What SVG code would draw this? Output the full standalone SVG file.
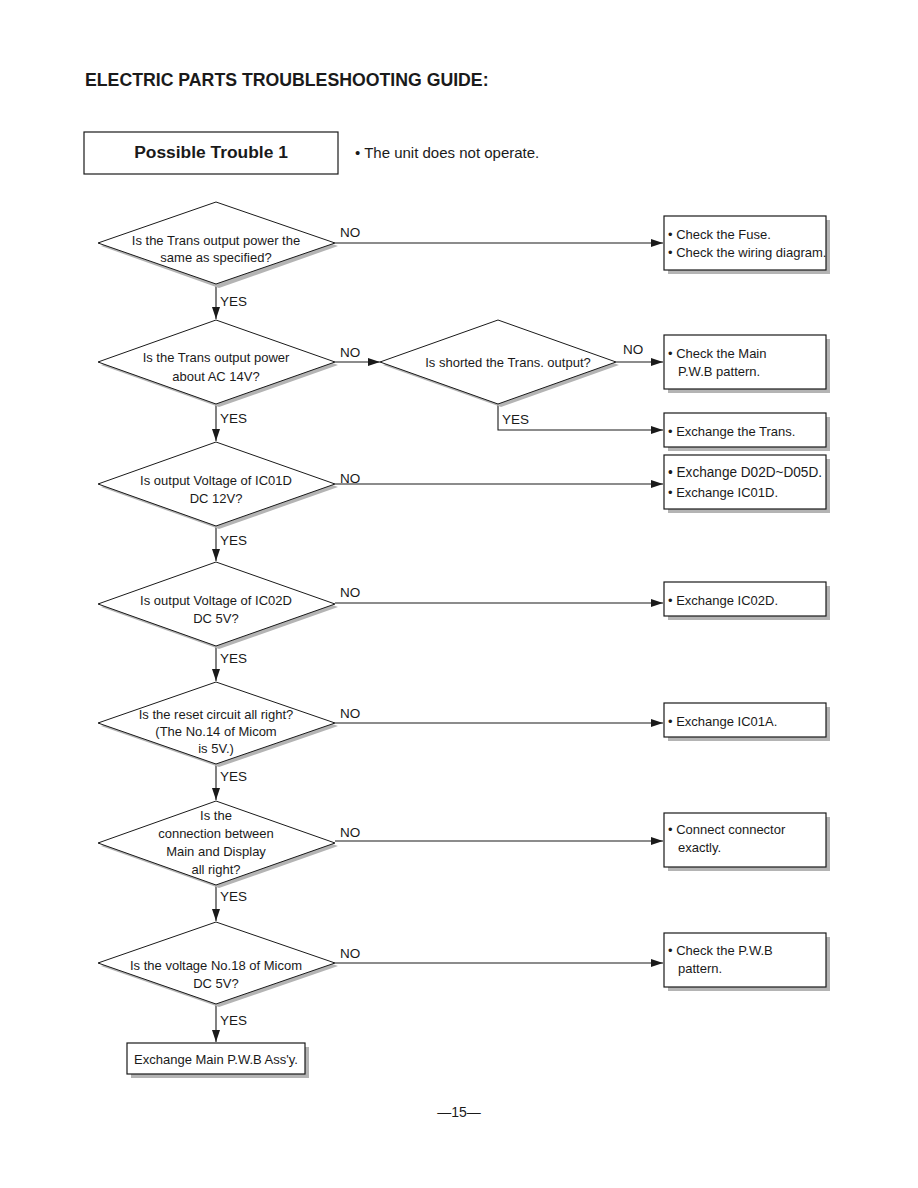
<svg xmlns="http://www.w3.org/2000/svg" width="918" height="1188" viewBox="0 0 918 1188">
<style>
text{font-family:"Liberation Sans",Arial,sans-serif;fill:#1a1a1a}
.d{font-size:13px;text-anchor:middle}
.b{font-size:13px}
.l{font-size:13.5px}
.dia{fill:#fff;stroke:#1a1a1a;stroke-width:1}
.sh{fill:#b4b4b4}
.box{fill:#fff;stroke:#1a1a1a;stroke-width:1.2}
.ln{stroke:#1a1a1a;stroke-width:1.1;fill:none}
</style>
<defs>
<marker id="ah" viewBox="0 0 12 8" refX="12" refY="4" markerWidth="12" markerHeight="8" markerUnits="userSpaceOnUse" orient="auto">
<path d="M0,0 L12,4 L0,8 z" fill="#1a1a1a"/>
</marker>
</defs>
<rect width="918" height="1188" fill="#fff"/>
<text x="85" y="86" style="font-size:17.7px;font-weight:bold">ELECTRIC PARTS TROUBLESHOOTING GUIDE:</text>
<g id="header">
<rect x="84" y="132" width="254" height="42" fill="#fff" stroke="#1a1a1a" stroke-width="1.2"/>
<text x="211" y="158" style="font-size:17.4px;font-weight:bold" text-anchor="middle">Possible Trouble 1</text>
<text x="355" y="158" style="font-size:15px">• The unit does not operate.</text>
</g>
<g id="connectors">
<line class="ln" x1="335" y1="243" x2="663" y2="243" marker-end="url(#ah)"/>
<text class="l" x="340" y="237">NO</text>
<line class="ln" x1="216" y1="284" x2="216" y2="319" marker-end="url(#ah)"/>
<text class="l" x="220" y="306">YES</text>
<line class="ln" x1="335" y1="362" x2="380" y2="362" marker-end="url(#ah)"/>
<text class="l" x="340" y="357">NO</text>
<line class="ln" x1="616" y1="362" x2="663" y2="362" marker-end="url(#ah)"/>
<text class="l" x="623" y="354">NO</text>
<polyline class="ln" points="498,404 498,430 663,430" marker-end="url(#ah)"/>
<text class="l" x="502" y="424">YES</text>
<line class="ln" x1="216" y1="404" x2="216" y2="441" marker-end="url(#ah)"/>
<text class="l" x="220" y="423">YES</text>
<line class="ln" x1="335" y1="484" x2="663" y2="484" marker-end="url(#ah)"/>
<text class="l" x="340" y="483">NO</text>
<line class="ln" x1="216" y1="526" x2="216" y2="561" marker-end="url(#ah)"/>
<text class="l" x="220" y="545">YES</text>
<line class="ln" x1="335" y1="603" x2="663" y2="603" marker-end="url(#ah)"/>
<text class="l" x="340" y="597">NO</text>
<line class="ln" x1="216" y1="646" x2="216" y2="681" marker-end="url(#ah)"/>
<text class="l" x="220" y="663">YES</text>
<line class="ln" x1="335" y1="723" x2="663" y2="723" marker-end="url(#ah)"/>
<text class="l" x="340" y="718">NO</text>
<line class="ln" x1="216" y1="764" x2="216" y2="800" marker-end="url(#ah)"/>
<text class="l" x="220" y="781">YES</text>
<line class="ln" x1="335" y1="841" x2="663" y2="841" marker-end="url(#ah)"/>
<text class="l" x="340" y="837">NO</text>
<line class="ln" x1="216" y1="885" x2="216" y2="921" marker-end="url(#ah)"/>
<text class="l" x="220" y="901">YES</text>
<line class="ln" x1="335" y1="963" x2="663" y2="963" marker-end="url(#ah)"/>
<text class="l" x="340" y="958">NO</text>
<line class="ln" x1="216" y1="1004" x2="216" y2="1042" marker-end="url(#ah)"/>
<text class="l" x="220" y="1025">YES</text>
</g>
<g id="q1">
<polygon class="sh" points="101,246 219,205 338,246 219,288"/>
<polygon class="dia" points="98,243 216,202 335,243 216,284"/>
<text class="d" x="216" y="245">Is the Trans output power the</text>
<text class="d" x="216" y="262">same as specified?</text>
</g>
<g id="q2">
<polygon class="sh" points="101,365 219,323 338,365 219,407"/>
<polygon class="dia" points="98,362 216,320 335,362 216,404"/>
<text class="d" x="216" y="362">Is the Trans output power</text>
<text class="d" x="216" y="381">about AC 14V?</text>
</g>
<g id="q2b">
<polygon class="sh" points="383,365 501,323 619,365 501,407"/>
<polygon class="dia" points="380,362 498,320 616,362 498,404"/>
<text class="d" x="508" y="367">Is shorted the Trans. output?</text>
</g>
<g id="q3">
<polygon class="sh" points="101,487 219,445 338,487 219,529"/>
<polygon class="dia" points="98,484 216,442 335,484 216,526"/>
<text class="d" x="216" y="485">Is output Voltage of IC01D</text>
<text class="d" x="216" y="503">DC 12V?</text>
</g>
<g id="q4">
<polygon class="sh" points="101,607 219,565 338,607 219,649"/>
<polygon class="dia" points="98,604 216,562 335,604 216,646"/>
<text class="d" x="216" y="605">Is output Voltage of IC02D</text>
<text class="d" x="216" y="623">DC 5V?</text>
</g>
<g id="q5">
<polygon class="sh" points="101,726 219,685 338,726 219,767"/>
<polygon class="dia" points="98,723 216,682 335,723 216,764"/>
<text class="d" x="216" y="719">Is the reset circuit all right?</text>
<text class="d" x="216" y="736">(The No.14 of Micom</text>
<text class="d" x="216" y="753">is 5V.)</text>
</g>
<g id="q6">
<polygon class="sh" points="101,846 219,804 338,846 219,888"/>
<polygon class="dia" points="98,843 216,801 335,843 216,885"/>
<text class="d" x="216" y="820">Is the</text>
<text class="d" x="216" y="838">connection between</text>
<text class="d" x="216" y="856">Main and Display</text>
<text class="d" x="216" y="874">all right?</text>
</g>
<g id="q7">
<polygon class="sh" points="101,966 219,925 338,966 219,1007"/>
<polygon class="dia" points="98,963 216,922 335,963 216,1004"/>
<text class="d" x="216" y="970">Is the voltage No.18 of Micom</text>
<text class="d" x="216" y="988">DC 5V?</text>
</g>
<g id="a1">
<rect class="sh" x="668" y="220" width="162" height="54"/>
<rect class="box" x="664" y="216" width="162" height="54"/>
<text class="b" x="668" y="239">• Check the Fuse.</text>
<text class="b" x="668" y="257">• Check the wiring diagram.</text>
</g>
<g id="a2">
<rect class="sh" x="668" y="339" width="162" height="54"/>
<rect class="box" x="664" y="335" width="162" height="54"/>
<text class="b" x="668" y="358">• Check the Main</text>
<text class="b" x="678" y="376">P.W.B pattern.</text>
</g>
<g id="a3">
<rect class="sh" x="668" y="417" width="162" height="34"/>
<rect class="box" x="664" y="413" width="162" height="34"/>
<text class="b" x="668" y="436">• Exchange the Trans.</text>
</g>
<g id="a4">
<rect class="sh" x="668" y="459" width="162" height="54"/>
<rect class="box" x="664" y="455" width="162" height="54"/>
<text x="668" y="477" style="font-size:15.5px" textLength="154" lengthAdjust="spacingAndGlyphs">• Exchange D02D~D05D.</text>
<text class="b" x="668" y="497">• Exchange IC01D.</text>
</g>
<g id="a5">
<rect class="sh" x="668" y="586" width="162" height="34"/>
<rect class="box" x="664" y="582" width="162" height="34"/>
<text class="b" x="668" y="605">• Exchange IC02D.</text>
</g>
<g id="a6">
<rect class="sh" x="668" y="707" width="162" height="34"/>
<rect class="box" x="664" y="703" width="162" height="34"/>
<text class="b" x="668" y="726">• Exchange IC01A.</text>
</g>
<g id="a7">
<rect class="sh" x="668" y="817" width="162" height="54"/>
<rect class="box" x="664" y="813" width="162" height="54"/>
<text class="b" x="668" y="834">• Connect connector</text>
<text class="b" x="678" y="852">exactly.</text>
</g>
<g id="a8">
<rect class="sh" x="668" y="937" width="162" height="54"/>
<rect class="box" x="664" y="933" width="162" height="54"/>
<text class="b" x="668" y="955">• Check the P.W.B</text>
<text class="b" x="678" y="973">pattern.</text>
</g>
<g id="end">
<rect class="sh" x="131" y="1047" width="178" height="31"/>
<rect class="box" x="127" y="1043" width="178" height="31"/>
<text class="d" x="216" y="1064">Exchange Main P.W.B Ass'y.</text>
</g>
<text x="459" y="1117" style="font-size:14px" text-anchor="middle">—15—</text>
</svg>
